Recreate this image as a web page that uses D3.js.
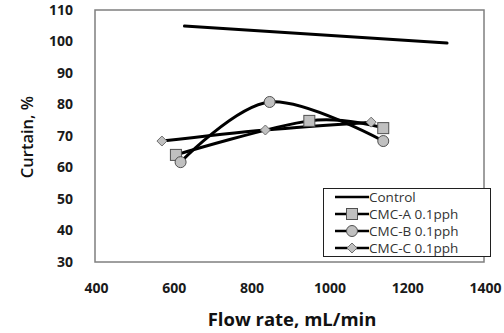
<!DOCTYPE html>
<html>
<head>
<meta charset="utf-8">
<script src="https://cdnjs.cloudflare.com/ajax/libs/d3/7.8.5/d3.min.js"></script>
<style>
  html, body { margin: 0; padding: 0; background: #fff; }
  svg { display: block; }
</style>
</head>
<body>
<svg id="chart" width="504" height="333"></svg>
<script>
// Curtain (%) versus flow rate (mL/min)
const seriesNames = ["Control", "CMC-A 0.1pph", "CMC-B 0.1pph", "CMC-C 0.1pph"];
const markerTypes = ["none", "square", "circle", "diamond"];

const controlFlow = [630, 1305];
const controlCurtain = [104.9, 99.5];

const cmcAFlow = [608, 951, 1141];
const cmcACurtain = [64.0, 74.8, 72.5];

const cmcBFlow = [620, 849, 1141];
const cmcBCurtain = [61.7, 80.8, 68.4];

const cmcCFlow = [572, 838, 1110];
const cmcCCurtain = [68.4, 71.9, 74.4];

const xTicks = [400, 600, 800, 1000, 1200, 1400];
const yTicks = [30, 40, 50, 60, 70, 80, 90, 100, 110];

const seriesFlow = [controlFlow, cmcAFlow, cmcBFlow, cmcCFlow];
const seriesCurtain = [controlCurtain, cmcACurtain, cmcBCurtain, cmcCCurtain];

const svg = d3.select("#chart");
const plot = { left: 95, top: 10, right: 484, bottom: 262 };

const x = d3.scaleLinear().domain([400, 1400]).range([plot.left, plot.right]);
const y = d3.scaleLinear().domain([30, 110]).range([plot.bottom, plot.top]);

const font = "'Open Sans', sans-serif";

// Plot frame
svg.append("rect")
  .attr("x", plot.left).attr("y", plot.top)
  .attr("width", plot.right - plot.left).attr("height", plot.bottom - plot.top)
  .attr("fill", "none").attr("stroke", "#7f7f7f").attr("stroke-width", 1.5);

// Axes (labels only, the frame provides the lines)
const xAxis = d3.axisBottom(x).tickValues(xTicks).tickFormat(d3.format("d")).tickSize(0).tickPadding(0);
const gx = svg.append("g").attr("transform", `translate(1,${plot.bottom + 26})`).call(xAxis);
gx.select(".domain").remove();
gx.selectAll("text")
  .attr("font-family", font).attr("font-weight", "bold").attr("font-size", 14)
  .attr("fill", "#1a1a1a").attr("dy", "0.35em");

const yAxis = d3.axisLeft(y).tickValues(yTicks).tickFormat(d3.format("d")).tickSize(0).tickPadding(0);
const gy = svg.append("g").attr("transform", `translate(${plot.left - 22},0)`).call(yAxis);
gy.select(".domain").remove();
gy.selectAll("text")
  .attr("font-family", font).attr("font-weight", "bold").attr("font-size", 14)
  .attr("fill", "#1a1a1a");

// Axis titles
svg.append("text")
  .attr("x", 292).attr("y", 326)
  .attr("text-anchor", "middle")
  .attr("font-family", font).attr("font-weight", "bold").attr("font-size", 18.5)
  .attr("fill", "#111")
  .text("Flow rate, mL/min");

svg.append("text")
  .attr("transform", `translate(33,137) rotate(-90)`)
  .attr("text-anchor", "middle")
  .attr("font-family", font).attr("font-weight", 600).attr("font-size", 16.5)
  .attr("fill", "#111")
  .text("Curtain, %");

// Smoothed series lines
const line = d3.line()
  .x(d => x(d[0])).y(d => y(d[1]))
  .curve(d3.curveCardinal.tension(0));

function drawMarker(g, type, cx, cy) {
  const fill = "#c0c0c0", stroke = "#505050";
  if (type === "square") {
    g.append("rect").attr("x", cx - 5.5).attr("y", cy - 5.5).attr("width", 11).attr("height", 11)
      .attr("fill", fill).attr("stroke", stroke).attr("stroke-width", 1);
  } else if (type === "circle") {
    g.append("circle").attr("cx", cx).attr("cy", cy).attr("r", 5.5)
      .attr("fill", fill).attr("stroke", stroke).attr("stroke-width", 1);
  } else if (type === "diamond") {
    g.append("path")
      .attr("d", `M${cx},${cy - 5}L${cx + 5},${cy}L${cx},${cy + 5}L${cx - 5},${cy}Z`)
      .attr("fill", fill).attr("stroke", "#707070").attr("stroke-width", 1);
  }
}

const series = seriesNames.map((name, i) => ({
  name,
  marker: markerTypes[i],
  points: seriesFlow[i].map((f, j) => [f, seriesCurtain[i][j]])
}));

const linesG = svg.append("g");
series.forEach(s => {
  linesG.append("path")
    .attr("d", line(s.points))
    .attr("fill", "none").attr("stroke", "#000").attr("stroke-width", 3)
    .attr("stroke-linecap", "round");
});
const markersG = svg.append("g");
series.forEach(s => {
  s.points.forEach(p => drawMarker(markersG, s.marker, x(p[0]), y(p[1])));
});

// Legend
const legend = svg.append("g");
legend.append("rect")
  .attr("x", 323.5).attr("y", 188.5).attr("width", 167).attr("height", 68)
  .attr("fill", "#fff").attr("stroke", "#202020").attr("stroke-width", 1);
series.forEach((s, i) => {
  const ly = 197 + i * 17;
  legend.append("line")
    .attr("x1", 335).attr("x2", 369).attr("y1", ly).attr("y2", ly)
    .attr("stroke", "#000").attr("stroke-width", 2.5);
  drawMarker(legend, s.marker, 352, ly);
  legend.append("text")
    .attr("x", 369).attr("y", ly).attr("dy", "0.35em")
    .attr("font-family", font).attr("font-size", 13.5)
    .attr("fill", "#333")
    .text(s.name);
});
</script>
</body>
</html>
